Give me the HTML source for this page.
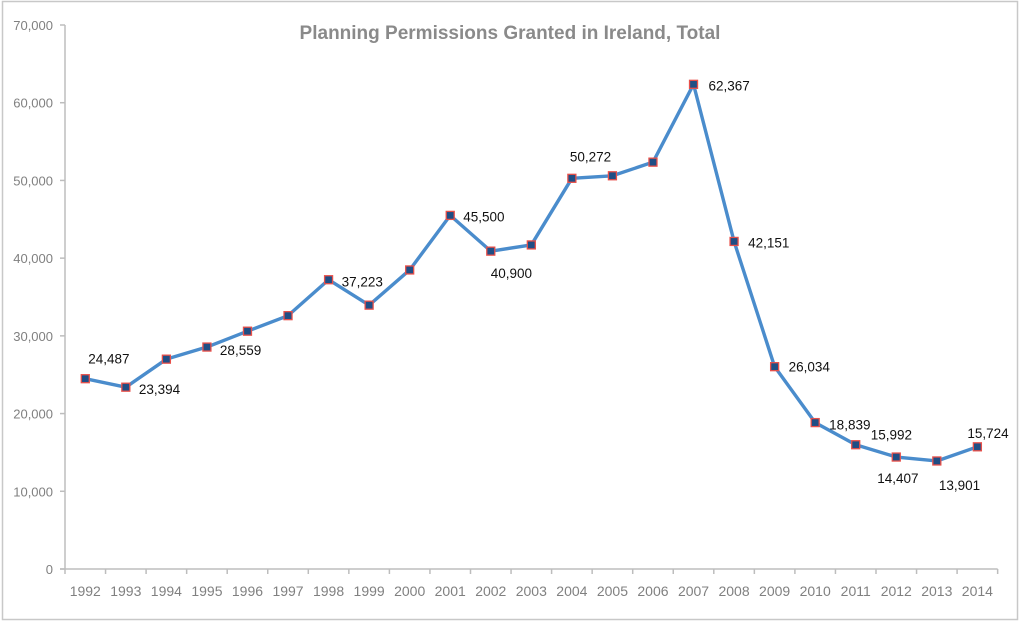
<!DOCTYPE html>
<html><head><meta charset="utf-8"><style>
body{margin:0;background:#fff;}
svg text{font-family:"Liberation Sans",sans-serif;}
</style></head><body>
<svg id="chart" width="1021" height="622" xmlns="http://www.w3.org/2000/svg">
<rect x="2.5" y="1.5" width="1015" height="618" fill="#fff" stroke="#c8c8c8" stroke-width="1.5"/>
<text x="510" y="39" text-anchor="middle" font-size="19" font-weight="bold" fill="#8a8a8a">Planning Permissions Granted in Ireland, Total</text>
<g id="axes"></g><g id="series"></g><g id="labels"></g>
</svg>
<script>
const years=["1992","1993","1994","1995","1996","1997","1998","1999","2000","2001","2002","2003","2004","2005","2006","2007","2008","2009","2010","2011","2012","2013","2014"];
const values=[24487,23394,27000,28559,30600,32600,37223,33950,38480,45500,40900,41700,50272,50600,52350,62367,42151,26034,18839,15992,14407,13901,15724];
const yTicks=[0,10000,20000,30000,40000,50000,60000,70000];
const labelIdx=[0,1,3,6,9,10,12,15,16,17,18,19,20,21,22];
const labelDx=[3,13,13,13,13,0,-2,15,14,14,14,15,-19,2,-10];
const labelDy=[-20,2,3,2,1,22,-22,1,1,0,2,-10,21,24,-14];
const NS="http://www.w3.org/2000/svg";
const x0=65,catW=40.55,yb=569,yt=25,ymax=70000;
const X=i=>x0+catW*(i+0.5);
const Y=v=>yb-(v/ymax)*(yb-yt);
const ax=document.getElementById('axes'),se=document.getElementById('series'),lb=document.getElementById('labels');
function mk(tag,attrs,parent,txt){const e=document.createElementNS(NS,tag);for(const k in attrs)e.setAttribute(k,attrs[k]);if(txt!==undefined)e.textContent=txt;parent.appendChild(e);return e;}
const xr=x0+catW*years.length;
let e=mk('line',{x1:x0,y1:yt,x2:x0,y2:yb,stroke:'#bdbdbd','stroke-width':1.5},ax);


e=mk('line',{x1:x0-5,y1:yb,x2:xr,y2:yb,stroke:'#bdbdbd','stroke-width':1.5},ax);


yTicks.forEach(t=>{
 mk('line',{x1:x0-5,y1:Y(t),x2:x0,y2:Y(t),stroke:'#bdbdbd','stroke-width':1.5},ax);
 const tx=mk('text',{x:x0-12,y:Y(t)+5,'text-anchor':'end','font-size':13,fill:'#808080'},ax,t.toLocaleString('en-US'));
 
 
});
for(let i=0;i<=years.length;i++){mk('line',{x1:x0+catW*i,y1:yb,x2:x0+catW*i,y2:yb+5,stroke:'#bdbdbd','stroke-width':1.5},ax);}
years.forEach((y,i)=>{
 const tx=mk('text',{x:X(i),y:yb+27,'text-anchor':'middle','font-size':14,fill:'#808080'},ax,y);
 
 
});
const pl=mk('polyline',{points:values.map((v,i)=>X(i)+','+Y(v)).join(' '),fill:'none',stroke:'#4a8ccc','stroke-width':3.4,'stroke-linejoin':'round'},se);


values.forEach((v,i)=>{
 const r=mk('rect',{x:X(i)-4,y:Y(v)-4,width:8,height:8,fill:'#1f4e85',stroke:'#e8504a','stroke-width':1.3},se);
 
 
});
labelIdx.forEach((idx,k)=>{
 const tx=mk('text',{x:X(idx)+labelDx[k],y:Y(values[idx])+labelDy[k]+5,'text-anchor':'start','font-size':13.5,fill:'#111'},lb,values[idx].toLocaleString('en-US'));
 
 
});
</script>
</body></html>
